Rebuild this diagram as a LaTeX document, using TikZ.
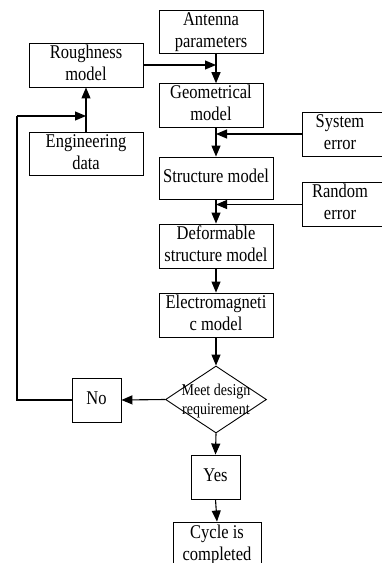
\documentclass[tikz,border=0pt]{standalone}
\usepackage{fontspec}
\setmainfont{Liberation Serif}
\usetikzlibrary{arrows.meta,shapes.geometric}

% text set slightly tall, as in the printed chart
\newcommand\tall[1]{\scalebox{1}[1.18]{\begin{tabular}{@{}c@{}}#1\end{tabular}}}

\tikzset{
  blk/.style={draw, line width=0.9pt, inner sep=0pt, align=center,
    font=\fontsize{16.5}{18.5}\selectfont},
  dec/.style={draw, diamond, line width=0.9pt, inner sep=0pt},
  dectext/.style={inner sep=0pt, align=center, font=\fontsize{14}{16.5}\selectfont},
  arr/.style={line width=1.1pt, -{Triangle[length=11pt,width=9pt]}},
  ln/.style={line width=1.1pt}
}

\begin{document}
\begin{tikzpicture}[x=1pt,y=-1pt]
\useasboundingbox (0,0) rectangle (382,563);
\clip (0,0) rectangle (382,563);

% main column axis
\coordinate (ax) at (216,0);

% boxes
\node[blk, minimum width=104, minimum height=42] (ant) at (211,32) {\tall{Antenna\\parameters}};
\node[blk, minimum width=114, minimum height=44] (rough) at (86,65) {\tall{Roughness\\model}};
\node[blk, minimum width=104, minimum height=41] (geom) at (211,105.5) {\tall{Geometrical\\model}};
\node[blk, minimum width=84, minimum height=44] (sys) at (344,134) {\hspace*{-8pt}\tall{System\\error}};
\node[blk, minimum width=114, minimum height=42] (eng) at (86,154) {\tall{Engineering\\data}};
\node[blk, minimum width=114, minimum height=42] (struct) at (216,178) {\tall{Structure model}};
\node[blk, minimum width=84, minimum height=43] (rand) at (344,204.5) {\hspace*{-8pt}\tall{Random\\error}};
\node[blk, minimum width=114, minimum height=44] (deform) at (216,246) {\tall{Deformable\\structure model}};
\node[blk, minimum width=114, minimum height=44] (em) at (216,315) {\tall{Electromagneti\\c model}};
\node[dec, minimum width=101, minimum height=67] (meet) at (216,399.5) {};
\node[dectext] (meettxt) at (216,401) {\tall{Meet design\\requirement}};
\node[blk, minimum width=49, minimum height=44] (no) at (96.5,400) {\tall{No}};
\node[blk, minimum width=49, minimum height=44] (yes) at (215.5,477) {\tall{Yes}};
\node[blk, minimum width=88, minimum height=46] (cyc) at (217,545) {\tall{Cycle is\\completed}};

% main flow
\draw[arr] (ant.south -| ax) -- (geom.north -| ax);
\draw[arr] (rough.east) -- (rough.east -| ax);
\draw[arr] (geom.south -| ax) -- (struct.north);
\draw[arr] (sys.west) -- (sys.west -| ax);
\draw[arr] (struct.south) -- (deform.north);
\draw[arr] (rand.west) -- (rand.west -| ax);
\draw[arr] (deform.south) -- (em.north);
\draw[arr] (em.south) -- (meet.north);
\draw[arr] (meet.west) -- (no.east);
\draw[arr] (meet.south) -- (yes.north);
\draw[arr] (yes.south) -- (cyc.north);

% feedback loop
\draw[arr] (eng.north) -- (rough.south);
\coordinate (lp) at (17,116);
\draw[ln] (no.west) -- (no.west -| lp) -- (lp);
\draw[arr] (lp) -- (lp -| eng.north);
\end{tikzpicture}
\end{document}
